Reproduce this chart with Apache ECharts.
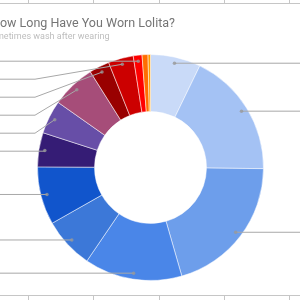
<!DOCTYPE html>
<html>
<head>
<meta charset="utf-8">
<script src="https://cdn.jsdelivr.net/npm/echarts@6/dist/echarts.min.js"></script>
<style>
html,body{margin:0;padding:0;background:#fff;}
#c{width:300px;height:300px;}
</style>
</head>
<body>
<div id="c"></div>
<script>
// ---- data (share of respondents, %) ----
const categories = ['Less than 1 year', '1 year', '2 years', '3 years', '4 years', '5 years', '6 years',
  '7 years', '8 years', '9 years', '10 years', '11 years', '12 years', '13+ years'];
const values = [7.2, 18.0, 20.4, 14.0, 7.3, 8.3, 4.9, 4.8, 6.3, 2.9, 3.6, 1.25, 0.85, 0.35];
const colors = ['#c9daf8', '#a4c2f4', '#6d9eeb', '#4a86e8', '#3c78d8', '#1155cc', '#351c75',
  '#674ea7', '#a64d79', '#990000', '#cc0000', '#ff0000', '#ff6d01', '#ff9900'];
const titleText = 'How Long Have You Worn Lolita?';
const subtitleText = 'Sometimes wash after wearing';

const total = values.reduce((a, b) => a + b, 0);
const CX = 150.5, CY = 167.5;
const labelMin = 1; // slices smaller than this get no label
const bendLeftX = 35;

const mainData = categories.map((n, i) => ({ name: n, value: values[i], itemStyle: { color: colors[i] } }));
const labelData = categories.map((n, i) => ({
  name: n, value: values[i],
  label: { show: values[i] >= labelMin },
  labelLine: { show: values[i] >= labelMin }
}));
let acc = 0;
const dotData = [];
values.forEach((v) => {
  if (v >= labelMin) dotData.push([0.947, acc + v / 2]);
  acc += v;
});

const chart = echarts.init(document.getElementById('c'), null, { renderer: 'canvas' });
const grid = '#c6c6c6';
chart.setOption({
  animation: false,
  title: [
    { text: titleText, left: -9, top: 17, padding: 0, textStyle: { fontFamily: 'Roboto', fontSize: 12.5, fontWeight: 'normal', color: '#757575' } },
    { text: subtitleText, left: -14.5, top: 32, padding: 0, textStyle: { fontFamily: 'Roboto', fontSize: 9, fontWeight: 'normal', color: '#bdbdbd' } }
  ],
  graphic: [
    { type: 'line', shape: { x1: 0, y1: 3.5, x2: 300, y2: 3.5 }, style: { stroke: grid, lineWidth: 1 } },
    { type: 'line', shape: { x1: 0, y1: 295.5, x2: 300, y2: 295.5 }, style: { stroke: grid, lineWidth: 1 } },
    ...[28.5, 93.5, 159.5, 224.5, 289.5].map(x => ({ type: 'line', shape: { x1: x, y1: 0, x2: x, y2: 3.5 }, style: { stroke: grid, lineWidth: 1 } })),
    ...[28.5, 93.5, 159.5, 224.5, 289.5].map(x => ({ type: 'line', shape: { x1: x, y1: 295.5, x2: x, y2: 300 }, style: { stroke: grid, lineWidth: 1 } }))
  ],
  polar: { center: [CX, CY], radius: 113 },
  angleAxis: { type: 'value', min: 0, max: total, startAngle: 90, clockwise: true, show: false },
  radiusAxis: { type: 'value', min: 0, max: 1, show: false },
  series: [
    {
      type: 'pie', center: [CX, CY], radius: [56, 113], startAngle: 90, clockwise: true,
      silent: true, z: 2,
      label: { show: false }, labelLine: { show: false },
      itemStyle: { borderColor: '#ffffff', borderWidth: 0.5 },
      data: mainData
    },
    {
      type: 'pie', center: [CX, CY], radius: [0, 107], startAngle: 90, clockwise: true,
      silent: true, z: 3,
      itemStyle: { color: 'rgba(0,0,0,0)' },
      label: { show: true, position: 'outside', alignTo: 'edge', edgeDistance: -200, formatter: '{b}',
        fontFamily: 'Roboto', fontSize: 11, lineHeight: 16, color: '#222', overflow: 'none' },
      labelLine: { show: true, length: 0, length2: 10, lineStyle: { color: '#a8a8a8', width: 1 } },
      labelLayout: function (params) {
        const pts = params.labelLinePoints;
        if (!pts || pts.length < 3) return {};
        const p0 = pts[0], p2 = pts[2];
        if (p0[0] < CX && Math.abs(p0[1] - p2[1]) > 2.5) {
          return { labelLinePoints: [p0, [bendLeftX, p2[1]], p2] };
        }
        return {};
      },
      emphasis: { disabled: true },
      data: labelData
    },
    {
      type: 'scatter', coordinateSystem: 'polar', z: 4, silent: true,
      symbolSize: 3.5, itemStyle: { color: '#999999' },
      data: dotData
    }
  ]
});
</script>
</body>
</html>
